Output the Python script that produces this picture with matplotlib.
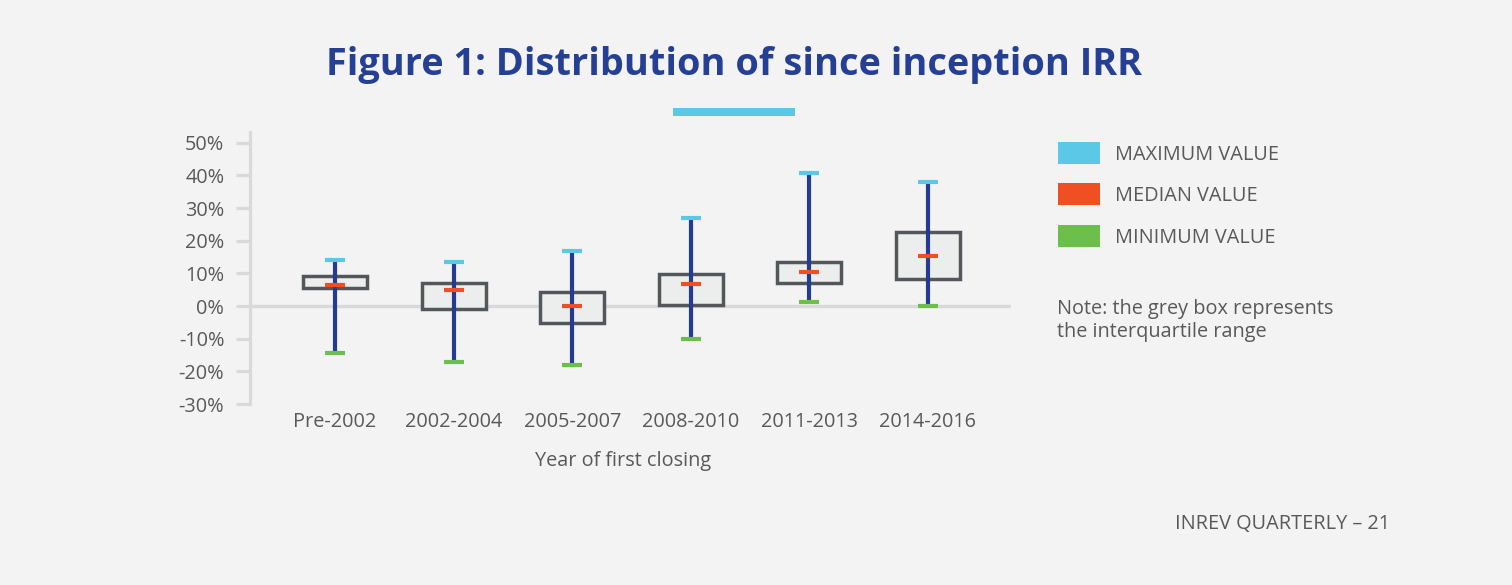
import matplotlib
matplotlib.use("Agg")
import matplotlib.pyplot as plt
from matplotlib.patches import Rectangle

plt.rcParams['font.family'] = ['Open Sans', 'DejaVu Sans']

categories = ["Pre-2002", "2002-2004", "2005-2007", "2008-2010", "2011-2013", "2014-2016"]
max_vals = [14.0, 13.5, 16.8, 26.9, 40.9, 37.9]
q3_vals = [9.2, 7.1, 4.3, 9.7, 13.5, 22.8]
median_vals = [6.4, 4.9, 0.0, 6.7, 10.4, 15.2]
q1_vals = [5.5, -1.0, -5.3, 0.4, 7.2, 8.2]
min_vals = [-14.4, -17.1, -18.0, -10.1, 1.2, 0.0]
yticks = [50, 40, 30, 20, 10, 0, -10, -20, -30]
ytick_labels = ["50%", "40%", "30%", "20%", "10%", "0%", "-10%", "-20%", "-30%"]
legend_labels = ["MAXIMUM VALUE", "MEDIAN VALUE", "MINIMUM VALUE"]

BG = "#f3f3f3"
TXT = "#595959"
C_MAX = "#5bc8e8"
C_MED = "#f04e23"
C_MIN = "#6cbf4a"
C_WHISK = "#233b91"
C_BOX_E = "#54575a"
C_BOX_F = "#eceeed"
C_AXIS = "#d9d9d9"
FS = 14.3

W, H = 1512, 585
fig = plt.figure(figsize=(W / 100, H / 100), dpi=100, facecolor=BG)

def fx(px):
    return px / W

def fy(py):
    return 1 - py / H

ax_left, ax_right, ax_top, ax_bot = 250, 1011, 131.7, 404
ax = fig.add_axes([fx(ax_left), fy(ax_bot), (ax_right - ax_left) / W, (ax_bot - ax_top) / H])
ax.set_facecolor(BG)

x = list(range(len(categories)))
ax.set_xlim(-0.717, 5.70)
ax.set_ylim(-30, 53.4)

# zero line
ax.axhline(0, color=C_AXIS, lw=2.4, zorder=1)

# boxes
heights = [a - b for a, b in zip(q3_vals, q1_vals)]
ax.bar(x, heights, bottom=q1_vals, width=0.54, facecolor=C_BOX_F,
       edgecolor=C_BOX_E, linewidth=2.5, zorder=2)

# whiskers
ax.vlines(x, min_vals, max_vals, color=C_WHISK, lw=3.0, zorder=3)

# caps
cw = 0.085
ax.hlines(max_vals, [i - cw for i in x], [i + cw for i in x], color=C_MAX, lw=3.0, zorder=4)
ax.hlines(median_vals, [i - cw for i in x], [i + cw for i in x], color=C_MED, lw=3.0, zorder=4)
ax.hlines(min_vals, [i - cw for i in x], [i + cw for i in x], color=C_MIN, lw=3.0, zorder=4)

for s in ["top", "right", "bottom"]:
    ax.spines[s].set_visible(False)
ax.spines["left"].set_color(C_AXIS)
ax.spines["left"].set_linewidth(2.3)

ax.set_yticks(yticks)
ax.set_yticklabels(ytick_labels)
ax.tick_params(axis="y", length=10, width=2.3, color=C_AXIS, labelcolor=TXT,
               labelsize=FS, pad=8.5)
ax.set_xticks(x)
ax.set_xticklabels(categories)
ax.tick_params(axis="x", length=0, labelcolor=TXT, labelsize=FS, pad=6)
ax.set_xlabel("Year of first closing", color=TXT, fontsize=FS, labelpad=15)
ax.xaxis.set_label_coords((623 - ax_left) / (ax_right - ax_left), -(461 - ax_bot) / (ax_bot - ax_top))
ax.xaxis.label.set_va("center")

# title
fig.text(fx(734), fy(65), "Figure 1: Distribution of since inception IRR", ha="center",
         va="center", fontsize=27.3, fontweight="bold", color="#253f94")
fig.patches.append(Rectangle((fx(673), fy(115.5)), (795 - 673) / W, 7.5 / H,
                             transform=fig.transFigure, facecolor=C_MAX, edgecolor="none"))

# legend
leg_y = [153, 194, 236]
for lab, col, yy in zip(legend_labels, [C_MAX, C_MED, C_MIN], leg_y):
    fig.patches.append(Rectangle((fx(1058), fy(yy + 11)), 42 / W, 22 / H,
                                 transform=fig.transFigure, facecolor=col, edgecolor="none"))
    fig.text(fx(1115), fy(yy + 2), lab, ha="left", va="center", fontsize=FS, color=TXT)

fig.text(fx(1057), fy(320), "Note: the grey box represents\nthe interquartile range",
         ha="left", va="center", fontsize=FS, color=TXT, linespacing=1.2)

fig.text(fx(1390), fy(524), "INREV QUARTERLY \u2013 21", ha="right", va="center",
         fontsize=FS, color=TXT)

fig.savefig("out.png", dpi=100, facecolor=BG)
